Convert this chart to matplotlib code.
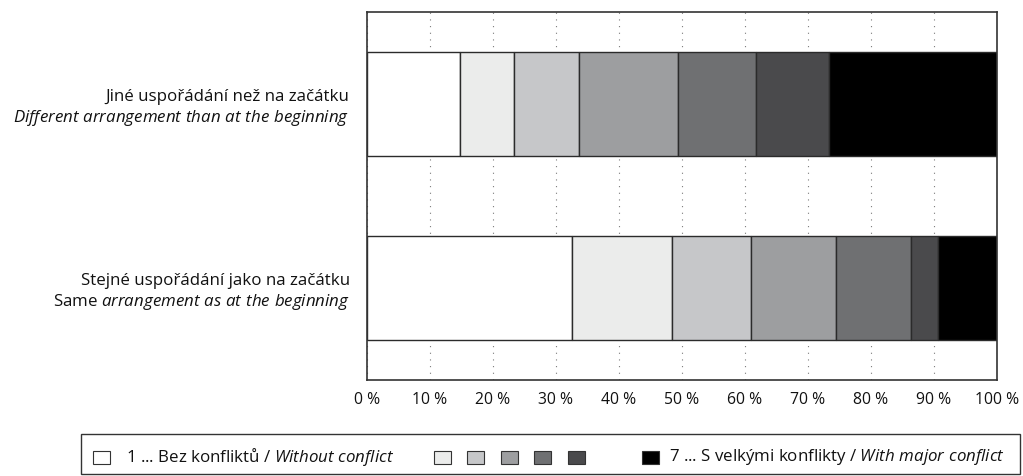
import matplotlib
matplotlib.use("Agg")
import matplotlib.pyplot as plt
from matplotlib.patches import Rectangle

#*******************************************************************************
# Data
#*******************************************************************************
categories = [
    "Stejné uspořádání jako na začátku\nSame $\\mathit{arrangement\\ as\\ at\\ the\\ beginning}$",
    "Jiné uspořádání než na začátku\n$\\mathit{Different\\ arrangement\\ than\\ at\\ the\\ beginning}$",
]

# share of answers 1..7 (percent), per category
same_arrangement = [32.6, 15.8, 12.5, 13.6, 11.9, 4.2, 9.4]
diff_arrangement = [14.8, 8.6, 10.3, 15.6, 12.5, 11.5, 26.7]

xticks = [0, 10, 20, 30, 40, 50, 60, 70, 80, 90, 100]
xtick_labels = ["%d %%" % v for v in xticks]

legend_first = "1 ... Bez konfliktů / $\\mathit{Without\\ conflict}$"
legend_last = "7 ... S velkými konflikty / $\\mathit{With\\ major\\ conflict}$"

colors = ["#ffffff", "#ebeceb", "#c6c7c9", "#9d9ea0", "#6f7072", "#4a4a4c", "#000000"]

#*******************************************************************************
# Style
#*******************************************************************************
plt.rcParams["font.family"] = ["Open Sans", "DejaVu Sans"]
plt.rcParams["mathtext.fontset"] = "custom"
plt.rcParams["mathtext.rm"] = "Open Sans"
plt.rcParams["mathtext.it"] = "Open Sans:italic"

W, H = 1023, 476
fig = plt.figure(figsize=(W / 100, H / 100), dpi=100)

def px(x):
    return x / W

def py(y):
    return 1 - y / H

ax = fig.add_axes([px(367), py(380), px(997) - px(367), py(12) - py(380)])

#*******************************************************************************
# Bars
#*******************************************************************************
rows = [same_arrangement, diff_arrangement]
for i, vals in enumerate(rows):
    left = 0
    for j, v in enumerate(vals):
        ax.barh(i, v, left=left, height=0.57, color=colors[j],
                edgecolor="#2b2b2b", linewidth=1.0, zorder=3)
        left += v

ax.set_xlim(0, 100)
ax.set_ylim(-0.5, 1.5)
ax.set_xticks(xticks)
ax.set_xticklabels(xtick_labels, fontsize=11.3, color="#111111")
ax.set_yticks([0, 1])
ax.set_yticklabels(categories, fontsize=12.2, color="#111111", linespacing=1.25)
ax.tick_params(axis="both", length=0)
ax.tick_params(axis="x", pad=9)
ax.tick_params(axis="y", pad=12.5)

ax.grid(axis="x", color="#7a7a7a", linestyle=(0, (1, 5)), linewidth=0.8, zorder=1)
ax.set_axisbelow(True)
for s in ax.spines.values():
    s.set_color("#333333")
    s.set_linewidth(1.2)
    s.set_zorder(5)

#*******************************************************************************
# Legend (drawn by hand)
#*******************************************************************************
fig.add_artist(Rectangle((px(81), py(474)), px(1020) - px(81), py(434) - py(474),
                         transform=fig.transFigure, facecolor="none",
                         edgecolor="#333333", linewidth=1.0))

ly = 457
sq_w, sq_h = 17, 13
sq_x = [93, 434, 467, 501, 534, 568, 642]
for c, x in zip(colors, sq_x):
    fig.add_artist(Rectangle((px(x), py(ly + sq_h / 2)), px(x + sq_w) - px(x),
                             py(ly - sq_h / 2) - py(ly + sq_h / 2),
                             transform=fig.transFigure, facecolor=c,
                             edgecolor="#333333", linewidth=0.8))

fig.text(px(126), py(ly), legend_first, fontsize=12.2, va="center", ha="left", color="#111111")
fig.text(px(669), py(ly), legend_last, fontsize=12.2, va="center", ha="left", color="#111111")

fig.savefig("out.png", dpi=100)
